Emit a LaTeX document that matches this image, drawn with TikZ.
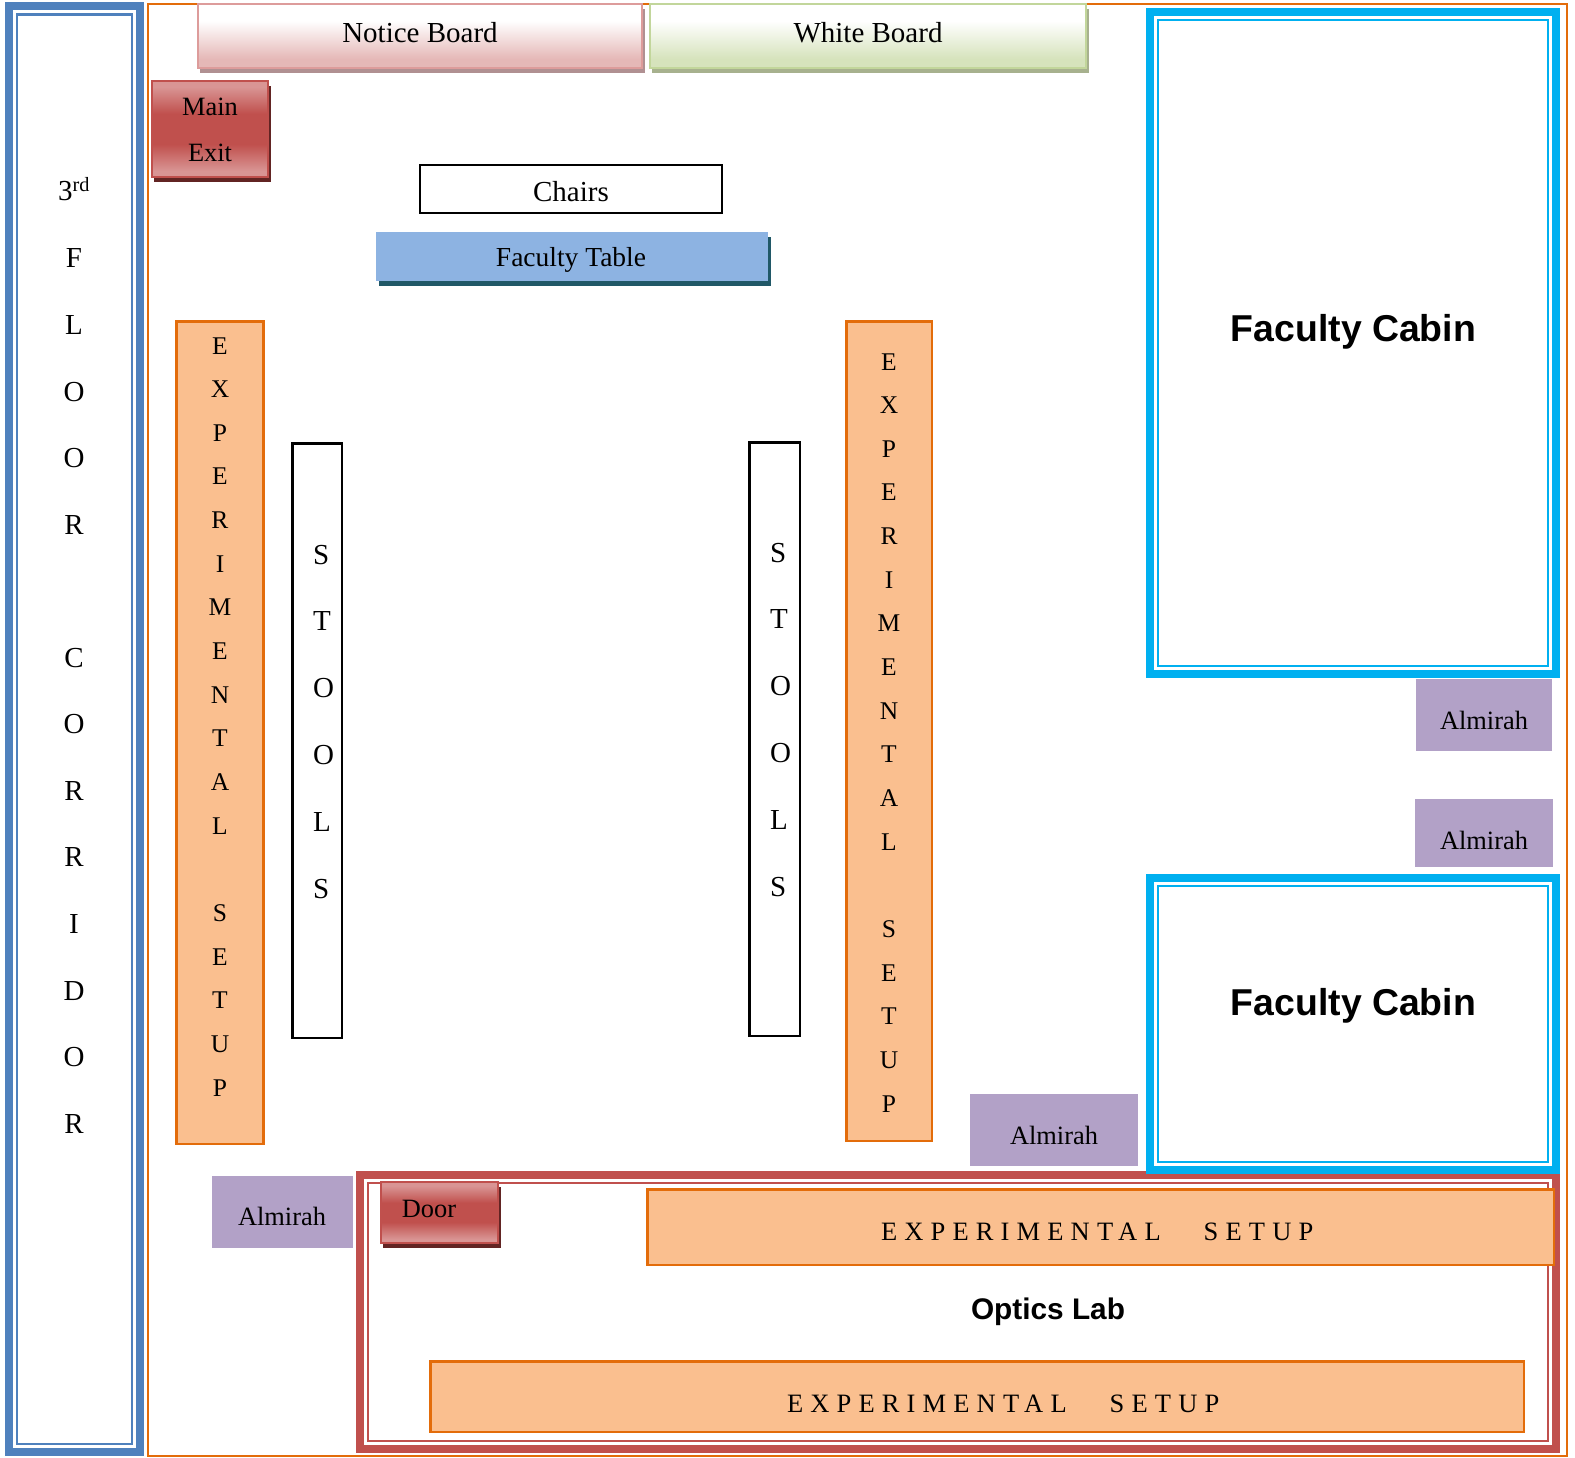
\documentclass[tikz,border=0pt]{standalone}
\usepackage{fontspec}
\setmainfont{Liberation Serif}
\newfontfamily\cabinfont{Liberation Sans}[BoldFont={Liberation Sans Bold}]
\newfontfamily\spacedfont[LetterSpace=27]{Liberation Serif}
\definecolor{framecol}{HTML}{E36C0A}
\definecolor{setupcol}{HTML}{FABF8F}
\definecolor{corrcol}{HTML}{4F81BD}
\definecolor{cabincol}{HTML}{00B0F0}
\definecolor{labcol}{HTML}{C0504D}
\definecolor{almcol}{HTML}{B2A1C7}
\definecolor{tablecol}{HTML}{8DB3E2}
\definecolor{tableshadow}{HTML}{205867}
\definecolor{redshadow}{HTML}{622423}
\definecolor{redlight}{HTML}{D99594}
\definecolor{pinklight}{HTML}{E5B8B7}
\definecolor{pinkedge}{HTML}{DD9C9B}
\definecolor{pinkshadow}{HTML}{B09092}
\definecolor{greenlight}{HTML}{D6E3BC}
\definecolor{greenedge}{HTML}{C2D69B}
\definecolor{greenshadow}{HTML}{A7B18E}
\pgfdeclareverticalshading{noticeshade}{100bp}{color(0bp)=(pinklight); color(32bp)=(pinklight); color(62bp)=(white); color(100bp)=(white)}
\pgfdeclareverticalshading{whiteshade}{100bp}{color(0bp)=(greenlight); color(32bp)=(greenlight); color(62bp)=(white); color(100bp)=(white)}
\pgfdeclareverticalshading{redshade}{100bp}{color(0bp)=(redlight); color(28bp)=(redlight); color(42bp)=(labcol); color(58bp)=(labcol); color(72bp)=(redlight); color(100bp)=(redlight)}
\tikzset{
  txt/.style={anchor=base,inner sep=0pt,outer sep=0pt,text=black,font=\fontsize{29}{32}\selectfont},
  txtsmall/.style={txt,font=\fontsize{26.4}{30}\selectfont},
  txtletter/.style={txt,font=\fontsize{25.5}{30}\selectfont},
  txtwide/.style={txt,anchor=base west,font=\fontsize{26.5}{30}\spacedfont},
  txtcabin/.style={txt,font=\fontsize{37.4}{42}\cabinfont\bfseries},
  txtoptics/.style={txt,font=\fontsize{29.8}{34}\cabinfont\bfseries},
  stoolletter/.style={txt,anchor=base west},
  setupbox/.style={fill=setupcol,draw=framecol,line width=2.6pt},
  almbox/.style={fill=almcol},
  blackbox/.style={fill=white,draw=black,line width=2.2pt},
}
\newcommand{\doubleframe}[5]{%
  \draw[#5,line width=8pt] (#1+4,#2+4) rectangle (#3-4,#4-4);
  \draw[#5,line width=2.4pt] (#1+12,#2+12) rectangle (#3-12,#4-12);
}
\newcommand{\shadowbox}[8]{%
  \fill[#7] (#1+3,#2+6) rectangle (#3+2,#4+4);
  \shade[shading=#5,draw=#6,line width=#8] (#1+1.2,#2+1.2) rectangle (#3-1.2,#4-1.2);
}
\begin{document}
\begin{tikzpicture}[x=1pt,y=-1pt]
\useasboundingbox (0,0) rectangle (1575,1458);
\fill[white] (0,0) rectangle (1575,1458);
% main room outline
\draw[framecol,line width=2.4pt] (148.2,4.2) rectangle (1566.8,1456);
% corridor
\doubleframe{5}{2.5}{144}{1456}{corrcol}
\foreach \n/\ch in {0/F,1/L,2/O,3/O,4/R,6/C,7/O,8/R,9/R,10/I,11/D,12/O,13/R}
  \node[txt] (corr\n) at (74,{268+66.55*\n}) {\ch};
\node[txt] (third) at (74,201) {3\textsuperscript{rd}};
% boards
\shadowbox{197}{3}{643}{69}{noticeshade}{pinkedge}{pinkshadow}{2.4pt}
\node[txt] (notice) at (420,43) {Notice Board};
\shadowbox{649}{3}{1087}{69}{whiteshade}{greenedge}{greenshadow}{2.4pt}
\node[txt] (whiteboard) at (868,43) {White Board};
% main exit
\shadowbox{151}{80}{269}{178}{redshade}{labcol}{redshadow}{2.4pt}
\node[txtsmall] (mainw) at (210,116) {Main};
\node[txtsmall] (exitw) at (210,162) {Exit};
% chairs, table
\draw[blackbox] (420,165) rectangle (722,213);
\node[txt] (chairs) at (571,202) {Chairs};
\fill[tableshadow] (379,237) rectangle (771,286);
\fill[tablecol] (376,232) rectangle (768,281);
\node[txtsmall,font=\fontsize{27.5}{30}\selectfont] (ftable) at (571,266) {Faculty Table};
% experimental setups, vertical
\draw[setupbox] (176.3,321.3) rectangle (263.7,1144);
\foreach \n/\ch in {0/E,1/X,2/P,3/E,4/R,5/I,6/M,7/E,8/N,9/T,10/A,11/L,13/S,14/E,15/T,16/U,17/P}
  \node[txtletter] (la\n) at (220,{354+43.65*\n}) {\ch};
\draw[setupbox] (846.3,321.3) rectangle (932,1141);
\foreach \n/\ch in {0/E,1/X,2/P,3/E,4/R,5/I,6/M,7/E,8/N,9/T,10/A,11/L,13/S,14/E,15/T,16/U,17/P}
  \node[txtletter] (ra\n) at (889,{370+43.65*\n}) {\ch};
% stools
\draw[blackbox] (292.5,443.5) rectangle (342,1038);
\foreach \n/\ch in {0/S,1/T,2/O,3/O,4/L,5/S}
  \node[stoolletter] (ls\n) at (313,{564+66.8*\n}) {\ch};
\draw[blackbox] (749.5,442.5) rectangle (800,1036);
\foreach \n/\ch in {0/S,1/T,2/O,3/O,4/L,5/S}
  \node[stoolletter] (rs\n) at (770,{562+66.8*\n}) {\ch};
% optics lab
\doubleframe{356}{1171}{1560}{1453}{labcol}
% faculty cabins
\doubleframe{1146}{8}{1560}{678}{cabincol}
\node[txtcabin] (cabina) at (1353.5,341) {Faculty Cabin};
\doubleframe{1146}{874}{1560}{1174}{cabincol}
\node[txtcabin] (cabinb) at (1353.5,1015) {Faculty Cabin};
% almirahs
\fill[almcol] (1416,679) rectangle (1552,751);
\node[txtsmall] (alma) at (1484,729) {Almirah};
\fill[almcol] (1415,799) rectangle (1553,867);
\node[txtsmall] (almb) at (1484,849) {Almirah};
\fill[almcol] (970,1094) rectangle (1138,1166);
\node[txtsmall] (almc) at (1054,1144) {Almirah};
\fill[almcol] (212,1176) rectangle (353,1248);
\node[txtsmall] (almd) at (282,1225) {Almirah};
% door
\shadowbox{380}{1181}{499}{1244}{redshade}{labcol}{redshadow}{2.4pt}
\node[txtsmall] (door) at (429,1217) {Door};
% lab setups
\draw[setupbox] (647.3,1189.3) rectangle (1554,1265);
\node[txtwide] (setupa) at (881,1240) {EXPERIMENTAL\hspace{43pt}SETUP};
\draw[setupbox] (430.3,1361.3) rectangle (1524,1432);
\node[txtwide] (setupb) at (787,1412) {EXPERIMENTAL\hspace{43pt}SETUP};
\node[txtoptics] (optics) at (1048,1319) {Optics Lab};
\end{tikzpicture}
\end{document}
